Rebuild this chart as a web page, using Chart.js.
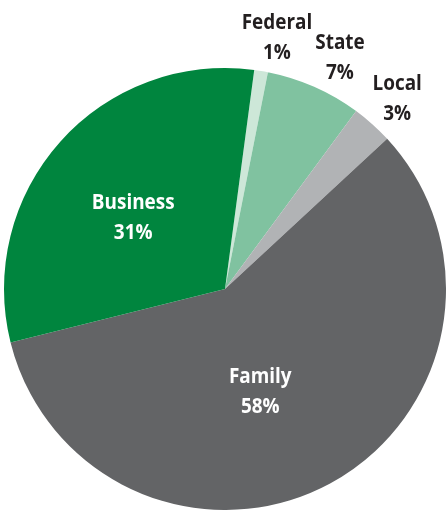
<!DOCTYPE html>
<html>
<head>
<meta charset="utf-8">
<script src="https://cdn.jsdelivr.net/npm/chart.js@4/dist/chart.umd.min.js"></script>
<style>
  html, body { margin: 0; padding: 0; background: #ffffff; }
  #wrap { width: 446px; height: 510px; position: relative; }
</style>
</head>
<body>
<div id="wrap"><canvas id="c" width="446" height="510"></canvas></div>
<script>
// Data
const categories = ["Federal", "State", "Local", "Family", "Business"];
const shares = [1, 7, 3, 58, 31];

// Styles
const sliceColors = ["#cde7d8", "#80c2a0", "#b1b3b5", "#636466", "#00853e"];
const labelColors = ["#231f20", "#231f20", "#231f20", "#ffffff", "#ffffff"];
const labelRadius = [1.16, 1.17, 1.16, 0.49, 0.525];   // fraction of outer radius
const labelAngleShift = [2.3, 2.6, 0.4, 9.4, -4.1];    // degrees
const condense = 0.86;

const sliceLabels = {
  id: 'sliceLabels',
  afterDatasetsDraw(chart) {
    const ctx = chart.ctx;
    const meta = chart.getDatasetMeta(0);
    meta.data.forEach((arc, i) => {
      const a = (arc.startAngle + arc.endAngle) / 2 + labelAngleShift[i] * Math.PI / 180;
      const r = arc.outerRadius * labelRadius[i];
      const x = arc.x + Math.cos(a) * r;
      const y = arc.y + Math.sin(a) * r;
      ctx.save();
      ctx.font = 'bold 22px "Open Sans", "Liberation Sans", sans-serif';
      ctx.textAlign = 'center';
      ctx.textBaseline = 'middle';
      ctx.fillStyle = labelColors[i];
      ctx.translate(x, y);
      ctx.scale(condense, 1);
      ctx.fillText(categories[i], 0, -15);
      ctx.fillText(shares[i] + '%', 0, 15);
      ctx.restore();
    });
  }
};

new Chart(document.getElementById('c'), {
  type: 'pie',
  data: {
    labels: categories,
    datasets: [{
      data: shares,
      backgroundColor: sliceColors,
      borderWidth: 0
    }]
  },
  options: {
    responsive: false,
    animation: false,
    rotation: 7.6,
    layout: { padding: { left: 4, right: 0, top: 68, bottom: 0 } },
    plugins: {
      legend: { display: false },
      tooltip: { enabled: false }
    }
  },
  plugins: [sliceLabels]
});
</script>
</body>
</html>
